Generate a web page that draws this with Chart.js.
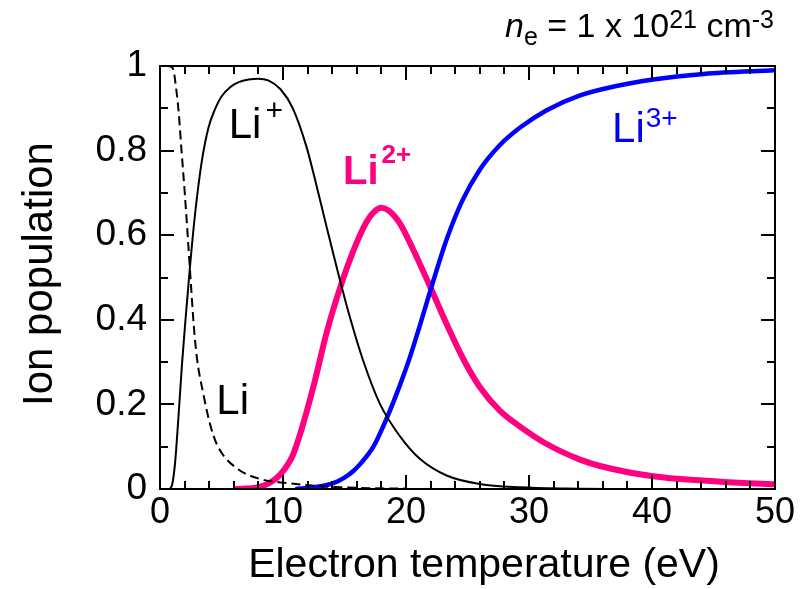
<!DOCTYPE html>
<html>
<head>
<meta charset="utf-8">
<script src="https://cdn.jsdelivr.net/npm/chart.js@4.4.1/dist/chart.umd.min.js"></script>
<style>
html, body { margin: 0; padding: 0; background: #fff; }
#chart { display: block; }
</style>
</head>
<body>
<canvas id="chart" width="803" height="589"></canvas>
<script>
const FONT = '"Liberation Sans", Arial, Helvetica, sans-serif'

// Li (neutral) - dashed black
const liTemp = [0.5, 0.9, 1.1, 1.3, 1.5, 1.75, 2.0, 2.25, 2.5, 2.75, 3.0, 3.5, 4.1, 4.6, 5.3, 6.2, 6.9, 8.5, 10, 11.9, 14, 17, 20]
const liPop = [1.0, 0.998, 0.99, 0.95, 0.897, 0.80, 0.705, 0.60, 0.49, 0.385, 0.31, 0.228, 0.15, 0.107, 0.074, 0.05, 0.037, 0.021, 0.015, 0.0095, 0.005, 0.002, 0.001]

// Li+ - solid black
const liPlusTemp = [0.8, 1.0, 1.22, 1.5, 1.8, 2.1, 2.45, 2.85, 3.4, 3.95, 4.5, 5.0, 5.7, 6.4, 7.2, 8.0, 8.8, 9.8, 10.8, 11.9, 12.7, 13.5, 14.4, 15.4, 16.5, 17.9, 19.5, 21.1, 23.3, 26.0, 29.3, 33, 38, 45]
const liPlusPop = [0, 0.012, 0.06, 0.17, 0.30, 0.41, 0.53, 0.65, 0.775, 0.855, 0.90, 0.928, 0.95, 0.962, 0.968, 0.97, 0.966, 0.945, 0.90, 0.81, 0.72, 0.625, 0.52, 0.41, 0.305, 0.20, 0.125, 0.072, 0.032, 0.012, 0.004, 0.001, 0, 0]

// Li2+ - magenta
const li2Temp = [6.1, 7.0, 8.1, 9.0, 9.8, 10.8, 11.5, 12.5, 13.55, 14.6, 15.7, 16.8, 17.4, 18.0, 18.6, 19.5, 20.6, 22.0, 23.3, 24.7, 26.0, 27.6, 29.3, 31.4, 34.1, 35.7, 40.1, 45.3, 50]
const li2Pop = [0, 0.001, 0.005, 0.016, 0.035, 0.08, 0.14, 0.245, 0.37, 0.472, 0.562, 0.632, 0.655, 0.665, 0.658, 0.628, 0.565, 0.476, 0.39, 0.305, 0.241, 0.186, 0.147, 0.107, 0.07, 0.055, 0.030, 0.018, 0.011]

// Li3+ - blue
const li3Temp = [11, 12.5, 14.1, 15.0, 15.7, 16.3, 17.35, 18.4, 19.5, 20.3, 21.1, 22.2, 23.3, 24.6, 26.0, 27.6, 29.3, 31.4, 34.1, 37.0, 40.1, 44.2, 50]
const li3Pop = [0, 0.004, 0.014, 0.027, 0.042, 0.06, 0.10, 0.165, 0.245, 0.31, 0.384, 0.49, 0.59, 0.683, 0.755, 0.812, 0.855, 0.895, 0.93, 0.952, 0.968, 0.981, 0.99]

const xTickValues = [0, 10, 20, 30, 40, 50]
const yTickValues = [0, 0.2, 0.4, 0.6, 0.8, 1]

const MAGENTA = '#FF0080'
const BLUE = '#0000FF'

// curve labels, anchored in data units
const ionLabels = [
	{ sup: '+', x: 5.59, y: 0.829, color: '#000', bold: false, size: 42, supSize: 30, gap: 4, rise: 18 },
	{ sup: '', x: 4.58, y: 0.177, color: '#000', bold: false, size: 42, supSize: 28, gap: 0, rise: 0 },
	{ sup: '2+', x: 14.88, y: 0.720, color: MAGENTA, bold: true, size: 40, supSize: 26, gap: 3, rise: 21 },
	{ sup: '3+', x: 36.75, y: 0.821, color: BLUE, bold: false, size: 42, supSize: 28, gap: 1, rise: 15 }
]

const pts = (xs, ys) => xs.map((x, i) => ({ x: x, y: ys[i] }))

function drawIonLabel(ctx, lab, px, py) {
	const w = lab.bold ? 'bold ' : ''
	ctx.fillStyle = lab.color
	ctx.textAlign = 'left'
	ctx.textBaseline = 'alphabetic'
	ctx.font = w + lab.size + 'px ' + FONT
	ctx.fillText('Li', px, py)
	if (!lab.sup) return
	const adv = ctx.measureText('Li').width
	ctx.font = w + lab.supSize + 'px ' + FONT
	ctx.fillText(lab.sup, px + adv + lab.gap, py - lab.rise)
}

function drawDensity(ctx, right, base) {
	// n_e = 1 x 10^21 cm^-3
	const big = 34, small = 25
	const parts = [
		{ t: 'n', f: 'italic ' + big + 'px ' + FONT, dy: 0 },
		{ t: 'e', f: small + 'px ' + FONT, dy: 8 },
		{ t: ' = 1 x 10', f: big + 'px ' + FONT, dy: 0 },
		{ t: '21', f: small + 'px ' + FONT, dy: -9 },
		{ t: ' cm', f: big + 'px ' + FONT, dy: 0 },
		{ t: '-3', f: small + 'px ' + FONT, dy: -9 }
	]
	let total = 0
	parts.forEach(p => { ctx.font = p.f; p.w = ctx.measureText(p.t).width; total += p.w })
	let x = right - total
	ctx.fillStyle = '#000'
	ctx.textAlign = 'left'
	ctx.textBaseline = 'alphabetic'
	parts.forEach(p => { ctx.font = p.f; ctx.fillText(p.t, x, base + p.dy); x += p.w })
}

const framePlugin = {
	id: 'frame',
	afterDatasetsDraw(chart) {
		const { ctx, chartArea: a, scales: { x, y } } = chart
		ctx.save()
		ctx.strokeStyle = '#000'
		ctx.lineWidth = 2
		ctx.beginPath()
		for (let v = 0; v <= 50; v += 2) {
			const px = Math.round(x.getPixelForValue(v))
			const len = v % 10 === 0 ? 14 : 8
			ctx.moveTo(px, a.bottom); ctx.lineTo(px, a.bottom - len)
			ctx.moveTo(px, a.top); ctx.lineTo(px, a.top + len)
		}
		for (let i = 0; i <= 10; i++) {
			const py = Math.round(y.getPixelForValue(i / 10))
			const len = i % 2 === 0 ? 14 : 8
			ctx.moveTo(a.left, py); ctx.lineTo(a.left + len, py)
			ctx.moveTo(a.right, py); ctx.lineTo(a.right - len, py)
		}
		ctx.stroke()
		ctx.strokeRect(a.left, a.top, a.right - a.left, a.bottom - a.top)

		ionLabels.forEach(lab => drawIonLabel(ctx, lab, x.getPixelForValue(lab.x), y.getPixelForValue(lab.y)))

		// axis titles
		ctx.fillStyle = '#000'
		ctx.textAlign = 'center'
		ctx.textBaseline = 'alphabetic'
		ctx.font = '41px ' + FONT
		ctx.fillText('Electron temperature (eV)', 484, 577)
		ctx.save()
		ctx.translate(52, 274)
		ctx.rotate(-Math.PI / 2)
		ctx.font = '42px ' + FONT
		ctx.fillText('Ion population', 0, 0)
		ctx.restore()

		drawDensity(ctx, 774, 37)
		ctx.restore()
	}
}

const tickFont = size => ({ family: FONT, size: size, lineHeight: 1 })

new Chart(document.getElementById('chart'), {
	type: 'line',
	data: {
		datasets: [
			{ label: 'Li+', data: pts(liPlusTemp, liPlusPop), borderColor: '#000', borderWidth: 2 },
			{ label: 'Li', data: pts(liTemp, liPop), borderColor: '#000', borderWidth: 2, borderDash: [9, 5] },
			{ label: 'Li3+', data: pts(li3Temp, li3Pop), borderColor: BLUE, borderWidth: 4.5 },
			{ label: 'Li2+', data: pts(li2Temp, li2Pop), borderColor: MAGENTA, borderWidth: 6 }
		]
	},
	options: {
		responsive: false,
		animation: false,
		devicePixelRatio: 1,
		layout: { padding: { top: 66, right: 28, left: 0, bottom: 0 } },
		elements: {
			point: { radius: 0 },
			line: { cubicInterpolationMode: 'monotone', fill: false }
		},
		plugins: {
			legend: { display: false },
			tooltip: { enabled: false }
		},
		scales: {
			x: {
				type: 'linear',
				min: 0,
				max: 50,
				grid: { display: false, drawTicks: false },
				border: { display: false },
				ticks: { font: tickFont(36), color: '#000', padding: 6, maxRotation: 0, autoSkip: false },
				afterBuildTicks: s => { s.ticks = xTickValues.map(v => ({ value: v })) },
				afterFit: s => { s.height = 100 }
			},
			y: {
				min: 0,
				max: 1,
				grid: { display: false, drawTicks: false },
				border: { display: false },
				ticks: { font: tickFont(37), color: '#000', padding: 13, callback: v => String(v) },
				afterBuildTicks: s => { s.ticks = yTickValues.map(v => ({ value: v })) },
				afterFit: s => { s.width = 160 }
			}
		}
	},
	plugins: [framePlugin]
})
</script>
</body>
</html>
